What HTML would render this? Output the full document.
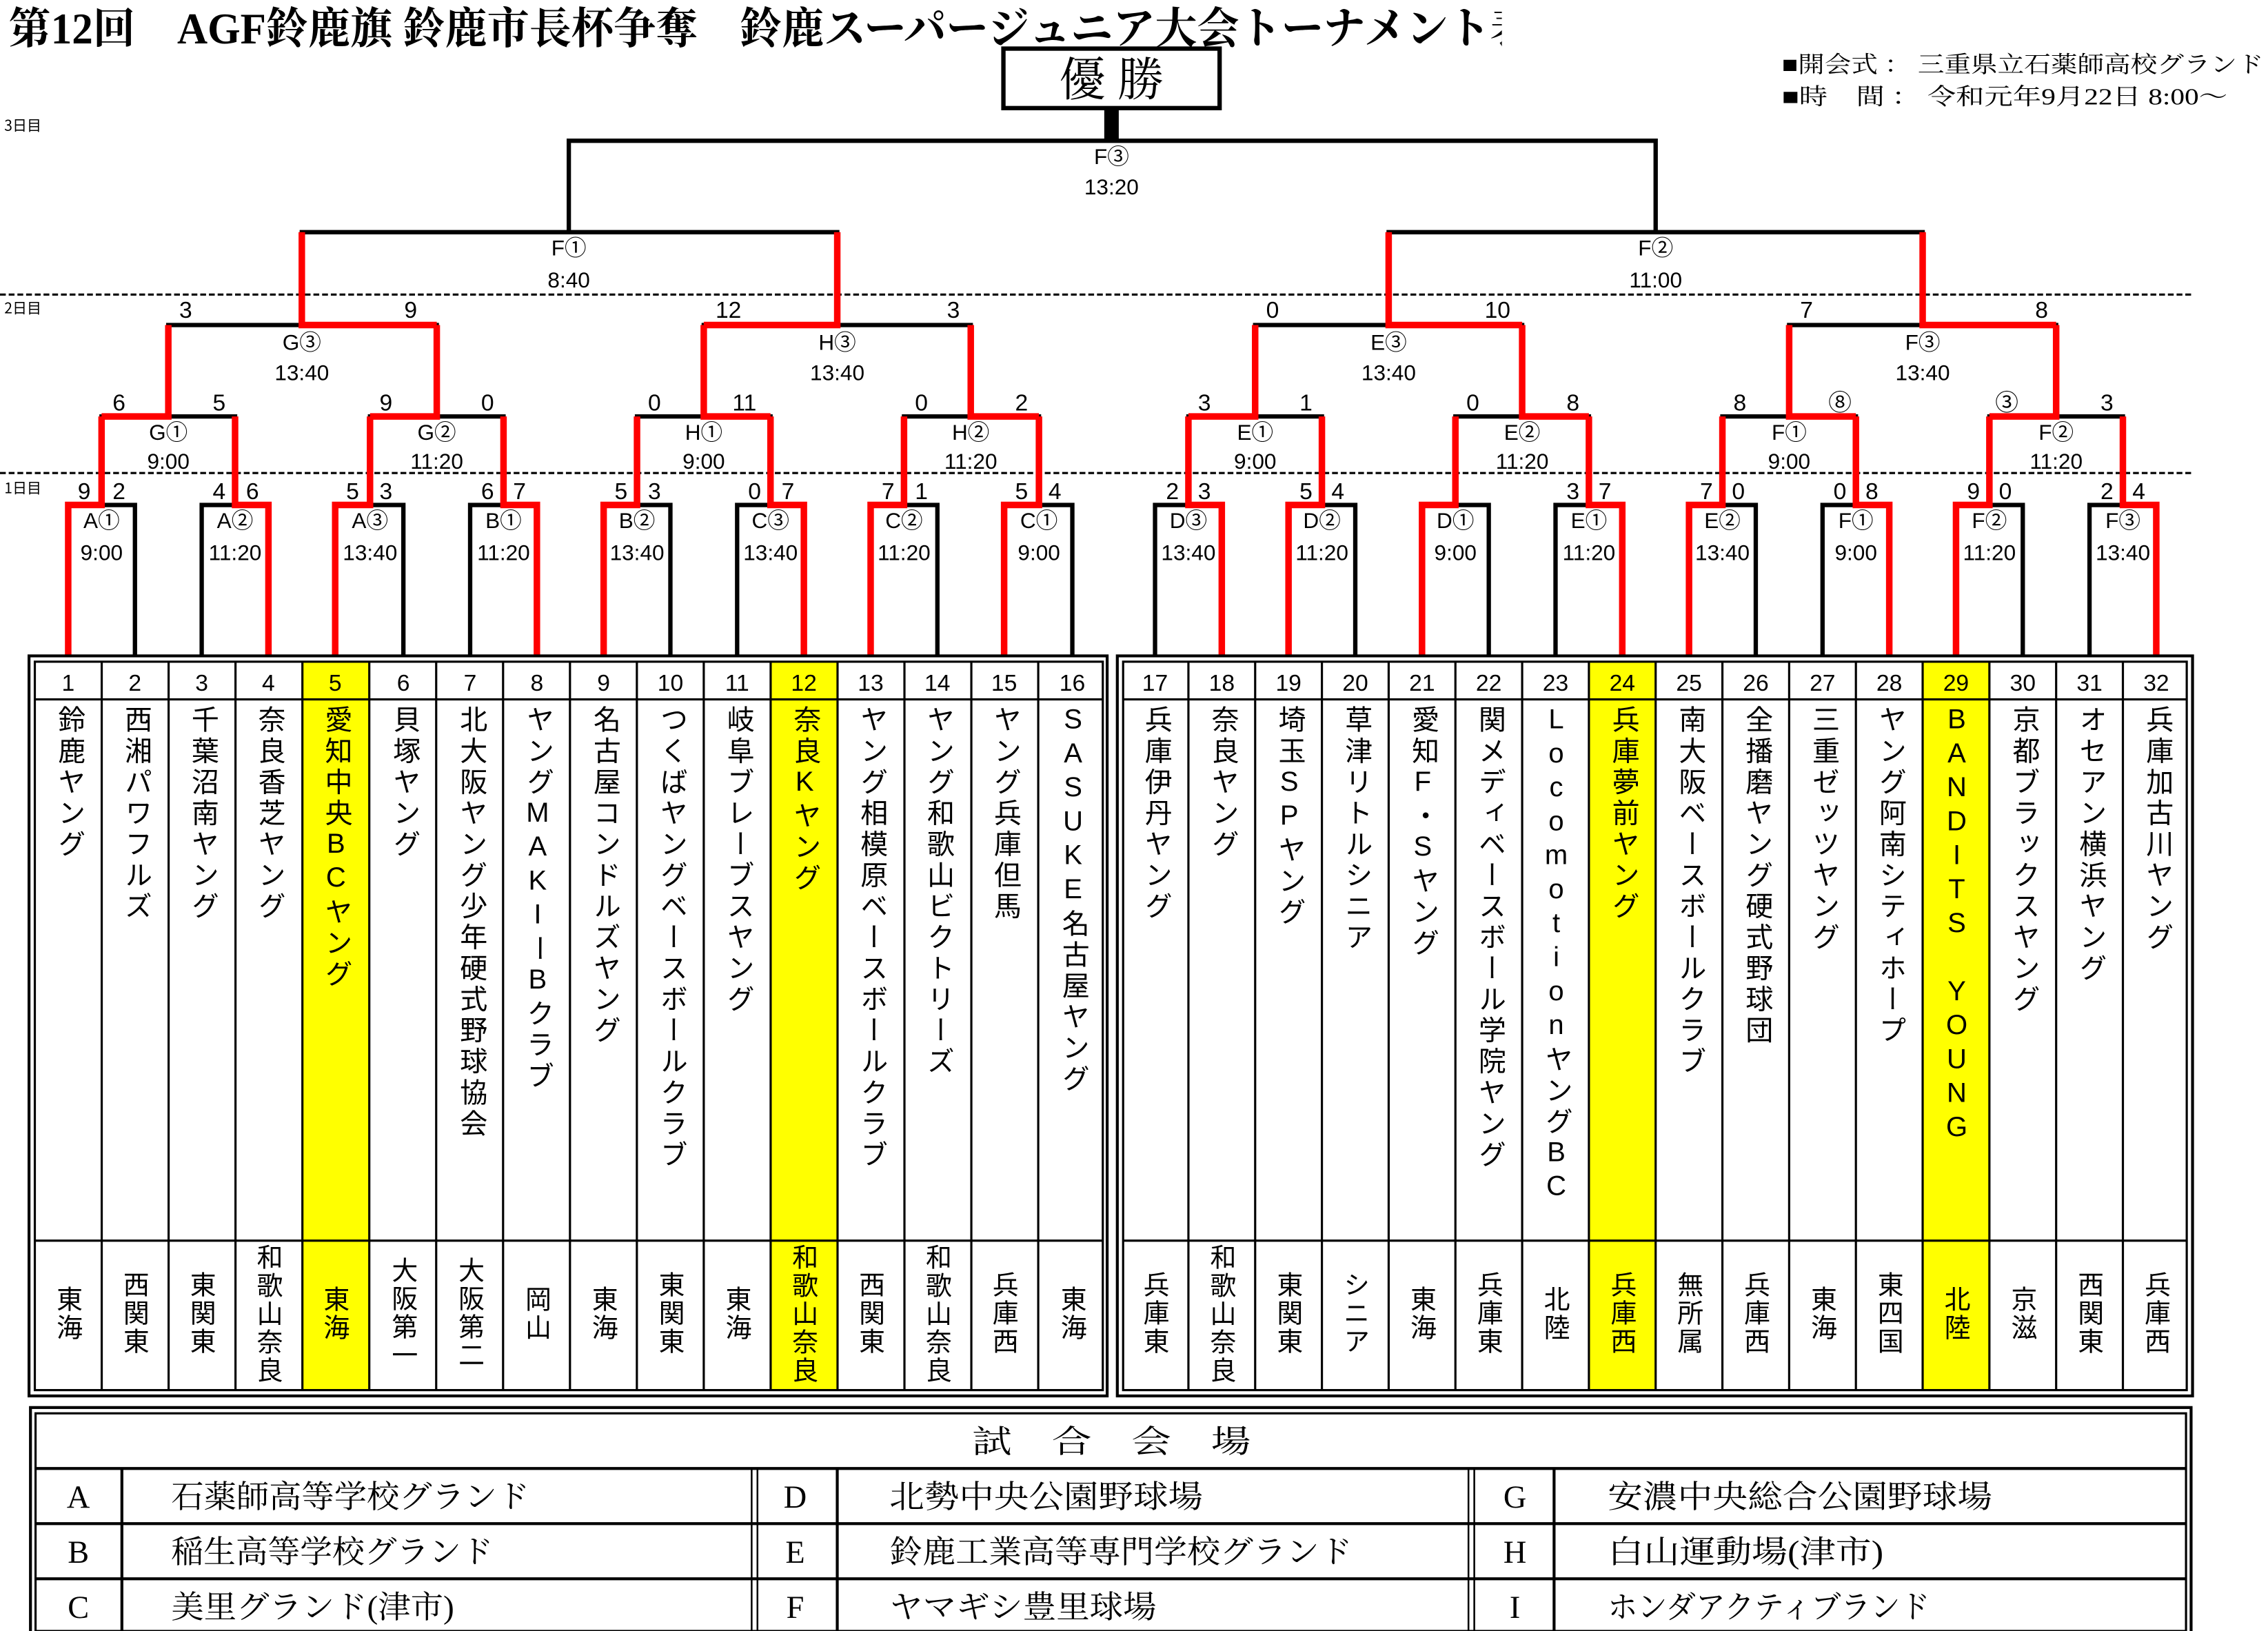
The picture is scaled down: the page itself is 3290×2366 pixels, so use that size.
<!DOCTYPE html>
<html><head><meta charset="utf-8"><style>
html,body{margin:0;padding:0;background:#fff;}
#wrap{position:relative;width:3290px;height:2366px;overflow:hidden;background:#fff;}
#c{position:absolute;left:0;top:0;width:1563px;height:1124px;transform:scale(2.10493,2.10498);transform-origin:0 0;}
svg{position:absolute;left:0;top:0;}
.n{position:absolute;top:486px;width:24px;height:368px;writing-mode:vertical-rl;text-orientation:upright;font-family:"Liberation Sans","Noto Sans CJK JP",sans-serif;font-size:19px;letter-spacing:2.4px;line-height:24px;color:#000;white-space:nowrap;}
.r{position:absolute;width:24px;writing-mode:vertical-rl;text-orientation:upright;font-family:"Liberation Sans","Noto Sans CJK JP",sans-serif;font-size:18px;letter-spacing:1.5px;line-height:24px;color:#000;white-space:nowrap;}
</style></head><body><div id="wrap"><div id="c">
<svg width="1563" height="1124" viewBox="0 0 1563 1124">
<g fill="#ffff00">
<rect x="208.4" y="456" width="46.1" height="502"/>
<rect x="531.1" y="456" width="46.1" height="502"/>
<rect x="1095" y="456" width="46" height="502"/>
<rect x="1325" y="456" width="46" height="502"/>
</g>
<defs><clipPath id="tc"><rect x="0" y="0" width="1035" height="45"/></clipPath></defs>
<text x="6" y="30" clip-path="url(#tc)" font-family="Liberation Serif,'Noto Serif CJK SC',serif" font-weight="bold" font-size="30" textLength="1050" lengthAdjust="spacingAndGlyphs">第12回　AGF鈴鹿旗 鈴鹿市長杯争奪　鈴鹿スーパージュニア大会トーナメント表</text>
<g font-family="Liberation Serif,'Noto Serif CJK SC',serif" font-size="16">
<text x="1228" y="50" textLength="332" lengthAdjust="spacingAndGlyphs">■開会式 ： 三重県立石薬師高校グランド</text>
<text x="1228" y="72" textLength="307" lengthAdjust="spacingAndGlyphs">■時　間 ： 令和元年9月22日 8:00～</text>
</g>
<rect x="691.5" y="33.5" width="149" height="41" fill="none" stroke="#000" stroke-width="3"/>
<text x="766" y="66" text-anchor="middle" font-family="'Noto Serif CJK SC',serif" font-size="32">優 勝</text>
<rect x="761" y="74" width="10" height="24" fill="#000"/>
<g font-family="'Noto Sans CJK JP',sans-serif" font-size="10">
<text x="3" y="90">3日目</text><text x="3" y="216">2日目</text><text x="3" y="340">1日目</text>
</g>
<g stroke="#000" stroke-width="1.5" stroke-dasharray="4 2">
<line x1="0" y1="203" x2="1510" y2="203"/><line x1="0" y1="326" x2="1510" y2="326"/>
</g>
<g fill="none" stroke="#000" stroke-width="3">
<path d="M47 452V348H93V452M139 452V348H185V452M231 452V348H278V452M324 452V348H370V452M416 452V348H462V452M508 452V348H554V452M600 452V348H646V452M692 452V348H739V452"/>
<path d="M796 452V348H842V452M888 452V348H934V452M980 452V348H1026V452M1072 452V348H1118V452M1164 452V348H1210V452M1256 452V348H1302V452M1348 452V348H1394V452M1440 452V348H1486V452"/>
<path d="M70 348V287H162V348M255 348V287H347V348M439 348V287H531V348M623 348V287H716V348M819 348V287H911V348M1003 348V287H1095V348M1187 348V287H1279V348M1371 348V287H1463V348"/>
<path d="M116 287V224H301V287M485 287V224H669V287M865 287V224H1049V287M1233 287V224H1417V287"/>
<path d="M208 224V160H577V224M957 224V160H1325V224"/>
<path d="M392 160V97H1141V160"/>
</g>
<g fill="none" stroke="#ff0000" stroke-width="4.5">
<path d="M47 452V348H70V287M185 452V348H162V287M231 452V348H255V287M370 452V348H347V287M416 452V348H439V287M554 452V348H531V287M600 452V348H623V287M692 452V348H716V287"/>
<path d="M842 452V348H819V287M888 452V348H911V287M980 452V348H1003V287M1118 452V348H1095V287M1164 452V348H1187V287M1302 452V348H1279V287M1348 452V348H1371V287M1486 452V348H1463V287"/>
<path d="M70 287H116V224M255 287H301V224M531 287H485V224M716 287H669V224M819 287H865V224M1095 287H1049V224M1279 287H1233V224M1371 287H1417V224"/>
<path d="M301 224H208V160M485 224H577V160M1049 224H957V160M1417 224H1325V160"/>
</g>
<g font-family="'Liberation Sans Narrow','Liberation Sans','Noto Sans CJK JP',sans-serif" font-size="15" text-anchor="middle">
<text x="70" y="364">A①</text><text x="70" y="386">9:00</text>
<text x="162" y="364">A②</text><text x="162" y="386">11:20</text>
<text x="255" y="364">A③</text><text x="255" y="386">13:40</text>
<text x="347" y="364">B①</text><text x="347" y="386">11:20</text>
<text x="439" y="364">B②</text><text x="439" y="386">13:40</text>
<text x="531" y="364">C③</text><text x="531" y="386">13:40</text>
<text x="623" y="364">C②</text><text x="623" y="386">11:20</text>
<text x="716" y="364">C①</text><text x="716" y="386">9:00</text>
<text x="819" y="364">D③</text><text x="819" y="386">13:40</text>
<text x="911" y="364">D②</text><text x="911" y="386">11:20</text>
<text x="1003" y="364">D①</text><text x="1003" y="386">9:00</text>
<text x="1095" y="364">E①</text><text x="1095" y="386">11:20</text>
<text x="1187" y="364">E②</text><text x="1187" y="386">13:40</text>
<text x="1279" y="364">F①</text><text x="1279" y="386">9:00</text>
<text x="1371" y="364">F②</text><text x="1371" y="386">11:20</text>
<text x="1463" y="364">F③</text><text x="1463" y="386">13:40</text>
<text x="116" y="303">G①</text><text x="116" y="323">9:00</text>
<text x="301" y="303">G②</text><text x="301" y="323">11:20</text>
<text x="485" y="303">H①</text><text x="485" y="323">9:00</text>
<text x="669" y="303">H②</text><text x="669" y="323">11:20</text>
<text x="865" y="303">E①</text><text x="865" y="323">9:00</text>
<text x="1049" y="303">E②</text><text x="1049" y="323">11:20</text>
<text x="1233" y="303">F①</text><text x="1233" y="323">9:00</text>
<text x="1417" y="303">F②</text><text x="1417" y="323">11:20</text>
<text x="208" y="241">G③</text><text x="208" y="262">13:40</text>
<text x="577" y="241">H③</text><text x="577" y="262">13:40</text>
<text x="957" y="241">E③</text><text x="957" y="262">13:40</text>
<text x="1325" y="241">F③</text><text x="1325" y="262">13:40</text>
<text x="392" y="176">F①</text><text x="392" y="198">8:40</text>
<text x="1141" y="176">F②</text><text x="1141" y="198">11:00</text>
<text x="766" y="113">F③</text><text x="766" y="134">13:20</text>
</g>
<g font-family="'Liberation Sans Narrow','Liberation Sans','Noto Sans CJK JP',sans-serif" font-size="16" text-anchor="middle">
<text x="58" y="344">9</text><text x="82" y="344">2</text>
<text x="151" y="344">4</text><text x="174" y="344">6</text>
<text x="243" y="344">5</text><text x="266" y="344">3</text>
<text x="336" y="344">6</text><text x="358" y="344">7</text>
<text x="428" y="344">5</text><text x="451" y="344">3</text>
<text x="520" y="344">0</text><text x="543" y="344">7</text>
<text x="612" y="344">7</text><text x="635" y="344">1</text>
<text x="704" y="344">5</text><text x="727" y="344">4</text>
<text x="808" y="344">2</text><text x="830" y="344">3</text>
<text x="900" y="344">5</text><text x="922" y="344">4</text>
<text x="1084" y="344">3</text><text x="1106" y="344">7</text>
<text x="1176" y="344">7</text><text x="1198" y="344">0</text>
<text x="1268" y="344">0</text><text x="1290" y="344">8</text>
<text x="1360" y="344">9</text><text x="1382" y="344">0</text>
<text x="1452" y="344">2</text><text x="1474" y="344">4</text>
<text x="82" y="283">6</text><text x="151" y="283">5</text>
<text x="266" y="283">9</text><text x="336" y="283">0</text>
<text x="451" y="283">0</text><text x="513" y="283">11</text>
<text x="635" y="283">0</text><text x="704" y="283">2</text>
<text x="830" y="283">3</text><text x="900" y="283">1</text>
<text x="1015" y="283">0</text><text x="1084" y="283">8</text>
<text x="1199" y="283">8</text><text x="1268" y="283">⑧</text>
<text x="1383" y="283">③</text><text x="1452" y="283">3</text>
<text x="128" y="219">3</text><text x="283" y="219">9</text>
<text x="502" y="219">12</text><text x="657" y="219">3</text>
<text x="877" y="219">0</text><text x="1032" y="219">10</text>
<text x="1245" y="219">7</text><text x="1407" y="219">8</text>
</g>
<g fill="none" stroke="#000">
<rect x="20" y="452" width="743" height="510" stroke-width="2"/>
<rect x="24" y="456" width="736" height="502" stroke-width="1.5"/>
<rect x="770" y="452" width="741" height="510" stroke-width="2"/>
<rect x="774" y="456" width="733" height="502" stroke-width="1.5"/>
<path stroke-width="1.5" d="M24 482H760M24 855H760M774 482H1507M774 855H1507"/>
<path stroke-width="1.5" d="M70.1 456V958M116.2 456V958M162.3 456V958M208.4 456V958M254.5 456V958M300.6 456V958M346.7 456V958M392.8 456V958M438.9 456V958M485 456V958M531.1 456V958M577.2 456V958M623.3 456V958M669.4 456V958M715.5 456V958"/>
<path stroke-width="1.5" d="M819 456V958M865 456V958M911 456V958M957 456V958M1003 456V958M1049 456V958M1095 456V958M1141 456V958M1187 456V958M1233 456V958M1279 456V958M1325 456V958M1371 456V958M1417 456V958M1463 456V958"/>
</g>
<g font-family="'Liberation Sans',sans-serif" font-size="16" text-anchor="middle">
<text x="47" y="476">1</text><text x="93" y="476">2</text><text x="139" y="476">3</text><text x="185" y="476">4</text><text x="231" y="476">5</text><text x="278" y="476">6</text><text x="324" y="476">7</text><text x="370" y="476">8</text><text x="416" y="476">9</text><text x="462" y="476">10</text><text x="508" y="476">11</text><text x="554" y="476">12</text><text x="600" y="476">13</text><text x="646" y="476">14</text><text x="692" y="476">15</text><text x="739" y="476">16</text>
<text x="796" y="476">17</text><text x="842" y="476">18</text><text x="888" y="476">19</text><text x="934" y="476">20</text><text x="980" y="476">21</text><text x="1026" y="476">22</text><text x="1072" y="476">23</text><text x="1118" y="476">24</text><text x="1164" y="476">25</text><text x="1210" y="476">26</text><text x="1256" y="476">27</text><text x="1302" y="476">28</text><text x="1348" y="476">29</text><text x="1394" y="476">30</text><text x="1440" y="476">31</text><text x="1486" y="476">32</text>
</g>
<g fill="none" stroke="#000">
<rect x="21" y="970" width="1489" height="156" stroke-width="2"/>
<rect x="24.5" y="974" width="1482" height="150" stroke-width="1.5"/>
<path stroke-width="2" d="M24 1012H1507M24 1050H1507M24 1088H1507"/>
<path stroke-width="2" d="M84 1012V1124M577 1012V1124M1071 1012V1124"/>
<path stroke-width="1.2" d="M518 1012V1124M522 1012V1124M1012 1012V1124M1016 1012V1124"/>
</g>
<g font-family="'Liberation Serif','Noto Serif CJK SC',serif" font-size="22">
<text x="766" y="1001" text-anchor="middle" textLength="192" lengthAdjust="spacingAndGlyphs">試　合　会　場</text>
<text x="54" y="1039" text-anchor="middle">A</text><text x="54" y="1077" text-anchor="middle">B</text><text x="54" y="1115" text-anchor="middle">C</text>
<text x="548" y="1039" text-anchor="middle">D</text><text x="548" y="1077" text-anchor="middle">E</text><text x="548" y="1115" text-anchor="middle">F</text>
<text x="1044" y="1039" text-anchor="middle">G</text><text x="1044" y="1077" text-anchor="middle">H</text><text x="1044" y="1115" text-anchor="middle">I</text>
<text x="118" y="1039" textLength="247" lengthAdjust="spacingAndGlyphs">石薬師高等学校グランド</text>
<text x="118" y="1077" textLength="222" lengthAdjust="spacingAndGlyphs">稲生高等学校グランド</text>
<text x="118" y="1115" textLength="195" lengthAdjust="spacingAndGlyphs">美里グランド(津市)</text>
<text x="613" y="1039" textLength="216" lengthAdjust="spacingAndGlyphs">北勢中央公園野球場</text>
<text x="613" y="1077" textLength="319" lengthAdjust="spacingAndGlyphs">鈴鹿工業高等専門学校グランド</text>
<text x="613" y="1115" textLength="184" lengthAdjust="spacingAndGlyphs">ヤマギシ豊里球場</text>
<text x="1108" y="1039" textLength="265" lengthAdjust="spacingAndGlyphs">安濃中央総合公園野球場</text>
<text x="1108" y="1077" textLength="190" lengthAdjust="spacingAndGlyphs">白山運動場(津市)</text>
<text x="1108" y="1115" textLength="222" lengthAdjust="spacingAndGlyphs">ホンダアクティブランド</text>
</g>
</svg>
<div class="n" style="left:35px">鈴鹿ヤング</div>
<div class="n" style="left:81px">西湘パワフルズ</div>
<div class="n" style="left:127px">千葉沼南ヤング</div>
<div class="n" style="left:173px">奈良香芝ヤング</div>
<div class="n" style="left:219px">愛知中央BCヤング</div>
<div class="n" style="left:266px">貝塚ヤング</div>
<div class="n" style="left:312px">北大阪ヤング少年硬式野球協会</div>
<div class="n" style="left:358px">ヤングMAKIーBクラブ</div>
<div class="n" style="left:404px">名古屋コンドルズヤング</div>
<div class="n" style="left:450px">つくばヤングベースボールクラブ</div>
<div class="n" style="left:496px">岐阜ブレーブスヤング</div>
<div class="n" style="left:542px">奈良Kヤング</div>
<div class="n" style="left:588px">ヤング相模原ベースボールクラブ</div>
<div class="n" style="left:634px">ヤング和歌山ビクトリーズ</div>
<div class="n" style="left:680px">ヤング兵庫但馬</div>
<div class="n" style="left:727px">SASUKE名古屋ヤング</div>
<div class="n" style="left:784px">兵庫伊丹ヤング</div>
<div class="n" style="left:830px">奈良ヤング</div>
<div class="n" style="left:876px">埼玉SPヤング</div>
<div class="n" style="left:922px">草津リトルシニア</div>
<div class="n" style="left:968px">愛知F・Sヤング</div>
<div class="n" style="left:1014px">関メディベースボール学院ヤング</div>
<div class="n" style="left:1060px">LocomotionヤングBC</div>
<div class="n" style="left:1106px">兵庫夢前ヤング</div>
<div class="n" style="left:1152px">南大阪ベースボールクラブ</div>
<div class="n" style="left:1198px">全播磨ヤング硬式野球団</div>
<div class="n" style="left:1244px">三重ゼッツヤング</div>
<div class="n" style="left:1290px">ヤング阿南シティホープ</div>
<div class="n" style="left:1336px">BANDITS YOUNG</div>
<div class="n" style="left:1382px">京都ブラックスヤング</div>
<div class="n" style="left:1428px">オセアン横浜ヤング</div>
<div class="n" style="left:1474px">兵庫加古川ヤング</div>
<div class="r" style="left:35px;top:886px">東海</div>
<div class="r" style="left:81px;top:876px">西関東</div>
<div class="r" style="left:127px;top:876px">東関東</div>
<div class="r" style="left:173px;top:857px">和歌山奈良</div>
<div class="r" style="left:219px;top:886px">東海</div>
<div class="r" style="left:266px;top:866px">大阪第一</div>
<div class="r" style="left:312px;top:866px">大阪第二</div>
<div class="r" style="left:358px;top:886px">岡山</div>
<div class="r" style="left:404px;top:886px">東海</div>
<div class="r" style="left:450px;top:876px">東関東</div>
<div class="r" style="left:496px;top:886px">東海</div>
<div class="r" style="left:542px;top:857px">和歌山奈良</div>
<div class="r" style="left:588px;top:876px">西関東</div>
<div class="r" style="left:634px;top:857px">和歌山奈良</div>
<div class="r" style="left:680px;top:876px">兵庫西</div>
<div class="r" style="left:727px;top:886px">東海</div>
<div class="r" style="left:784px;top:876px">兵庫東</div>
<div class="r" style="left:830px;top:857px">和歌山奈良</div>
<div class="r" style="left:876px;top:876px">東関東</div>
<div class="r" style="left:922px;top:876px">シニア</div>
<div class="r" style="left:968px;top:886px">東海</div>
<div class="r" style="left:1014px;top:876px">兵庫東</div>
<div class="r" style="left:1060px;top:886px">北陸</div>
<div class="r" style="left:1106px;top:876px">兵庫西</div>
<div class="r" style="left:1152px;top:876px">無所属</div>
<div class="r" style="left:1198px;top:876px">兵庫西</div>
<div class="r" style="left:1244px;top:886px">東海</div>
<div class="r" style="left:1290px;top:876px">東四国</div>
<div class="r" style="left:1336px;top:886px">北陸</div>
<div class="r" style="left:1382px;top:886px">京滋</div>
<div class="r" style="left:1428px;top:876px">西関東</div>
<div class="r" style="left:1474px;top:876px">兵庫西</div>
</div></div></body></html>
